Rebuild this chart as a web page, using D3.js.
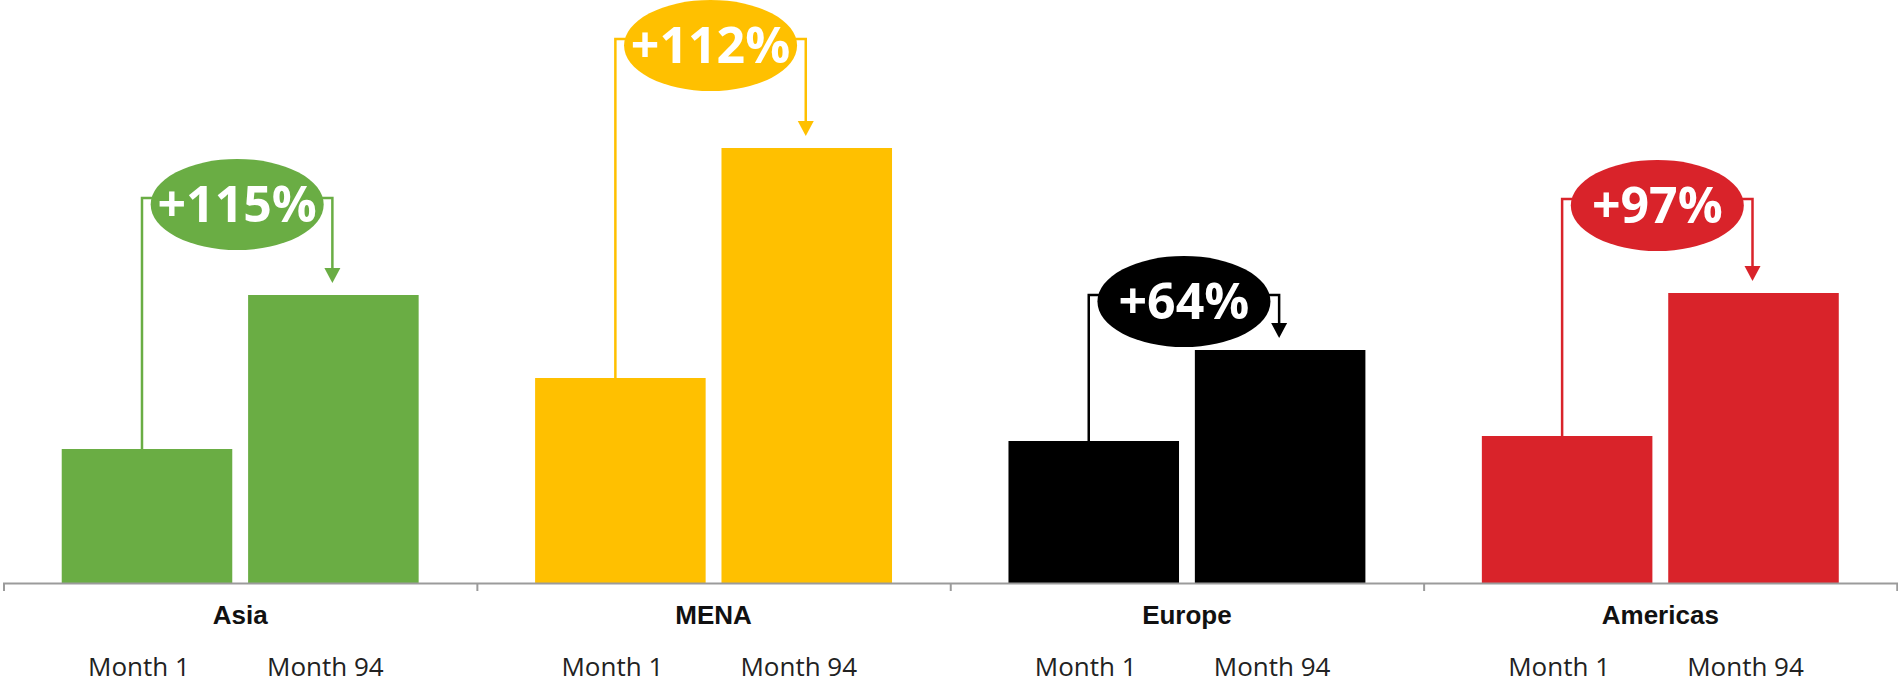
<!DOCTYPE html>
<html>
<head>
<meta charset="utf-8">
<script src="https://cdn.jsdelivr.net/npm/d3@7"></script>
<style>
  html, body { margin: 0; padding: 0; background: #fff; }
  svg { display: block; }
</style>
</head>
<body>
<div id="chart"></div>
<script>
// Regions and the two periods compared in each
var regions = ['Asia', 'MENA', 'Europe', 'Americas'];
var periods = ['Month 1', 'Month 94'];

// Bar heights (arbitrary units)
var month1Values = [134, 205, 142, 147];
var month94Values = [288, 435, 233, 290];

// Growth labels and the level (same units) where each callout sits
var growthLabels = ['+115%', '+112%', '+64%', '+97%'];
var calloutLevels = [385, 544, 288, 384];

var regionColors = ['#6aad44', '#ffc000', '#000000', '#d9232a'];

var svgWidth = 1898;
var svgHeight = 685;
var baseline = 583;

var svg = d3.select('#chart').append('svg')
  .attr('width', svgWidth)
  .attr('height', svgHeight);

// One row per region
var rows = regions.map(function(r, i) {
  return { region: r, values: [month1Values[i], month94Values[i]],
    label: growthLabels[i], level: calloutLevels[i], color: regionColors[i] };
});

var x0 = d3.scaleBand()
  .domain(regions)
  .range([3.5, 1897])
  .paddingInner(0.246)
  .paddingOuter(0.123);

var x1 = d3.scaleBand()
  .domain(periods)
  .range([0, x0.bandwidth()])
  .paddingInner(0.085);

var yScale = d3.scaleLinear()
  .domain([0, baseline])
  .range([baseline, 0]);

// Bars
var groups = svg.selectAll('g.region')
  .data(rows)
  .enter()
  .append('g')
  .attr('class', 'region')
  .attr('transform', function(d) { return 'translate(' + x0(d.region) + ',0)'; });

groups.selectAll('rect')
  .data(function(d) {
    return d.values.map(function(v, j) { return { period: periods[j], value: v, color: d.color }; });
  })
  .enter()
  .append('rect')
  .attr('x', function(d) { return x1(d.period); })
  .attr('y', function(d) { return yScale(d.value); })
  .attr('width', x1.bandwidth())
  .attr('height', function(d) { return yScale(0) - yScale(d.value); })
  .attr('fill', function(d) { return d.color; });

// Callouts: bracket from the first bar to the second with an arrow
groups.each(function(d) {
  var g = d3.select(this);
  var xa = x1(periods[0]) + x1.bandwidth() / 2 - 5;
  var xb = x1(periods[1]) + x1.bandwidth() / 2 - 1;
  var ly = yScale(d.level);
  var tipY = yScale(d.values[1]) - 12;
  var cx = (xa + xb) / 2;
  var cy = ly + 6.5;

  g.append('path')
    .attr('d', 'M' + xa + ',' + yScale(d.values[0]) + 'V' + ly + 'H' + xb + 'V' + (tipY - 14))
    .attr('fill', 'none')
    .attr('stroke', d.color)
    .attr('stroke-width', 2.5);

  g.append('path')
    .attr('d', 'M' + (xb - 8) + ',' + (tipY - 15) + 'L' + (xb + 8) + ',' + (tipY - 15) + 'L' + xb + ',' + tipY + 'Z')
    .attr('fill', d.color);

  g.append('ellipse')
    .attr('cx', cx)
    .attr('cy', cy)
    .attr('rx', 86.5)
    .attr('ry', 45.5)
    .attr('fill', d.color);

  g.append('text')
    .attr('x', cx)
    .attr('y', cy + 17.5)
    .attr('text-anchor', 'middle')
    .attr('font-family', '"Open Sans", sans-serif')
    .attr('font-weight', 'bold')
    .attr('font-size', 50)
    .attr('fill', '#fff')
    .text(d.label);
});

// Axis with ticks at the region boundaries
var edgeScale = d3.scaleLinear()
  .domain([0, regions.length])
  .range(x0.range());

var axis = svg.append('g')
  .attr('transform', 'translate(0,' + baseline + ')')
  .call(d3.axisBottom(edgeScale)
    .ticks(regions.length)
    .tickSize(8)
    .tickSizeOuter(8)
    .tickFormat(''));

axis.selectAll('path, line')
  .attr('stroke', '#9b9b9b')
  .attr('stroke-width', 2);

// Region names
svg.selectAll('text.region-label')
  .data(regions)
  .enter()
  .append('text')
  .attr('class', 'region-label')
  .attr('x', function(d) { return x0(d) + x0.bandwidth() / 2; })
  .attr('y', 624)
  .attr('text-anchor', 'middle')
  .attr('font-family', '"Liberation Sans", Arial, sans-serif')
  .attr('font-weight', 'bold')
  .attr('font-size', 26)
  .attr('fill', '#111')
  .text(function(d) { return d; });

// Period labels under each bar
groups.selectAll('text.period')
  .data(periods)
  .enter()
  .append('text')
  .attr('class', 'period')
  .attr('x', function(p) { return x1(p) + x1.bandwidth() / 2 - 8; })
  .attr('y', 676)
  .attr('text-anchor', 'middle')
  .attr('font-family', '"Open Sans", sans-serif')
  .attr('font-size', 26)
  .attr('fill', '#222')
  .text(function(p) { return p; });
</script>
</body>
</html>
